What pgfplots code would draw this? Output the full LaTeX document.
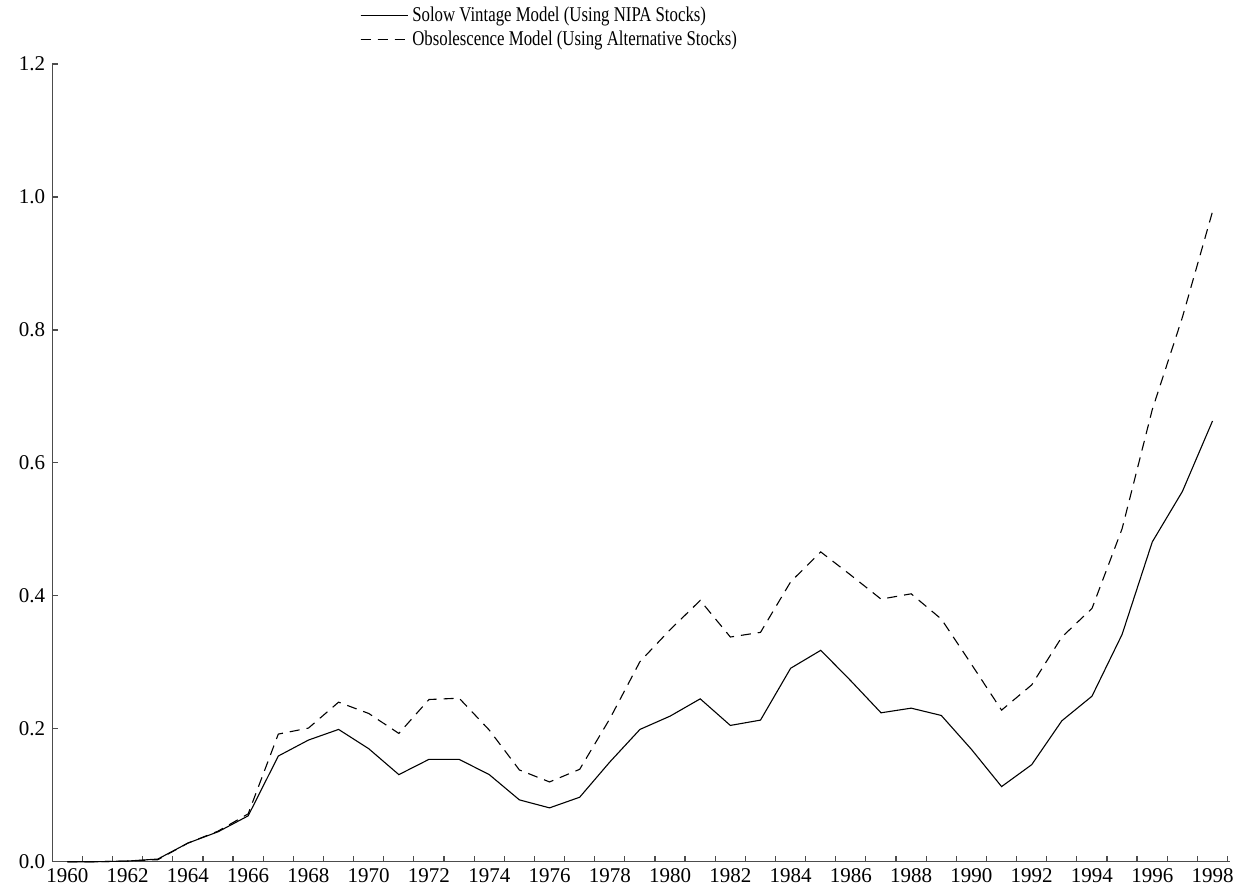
\documentclass[border=0pt]{standalone}
\usepackage{fontspec}
\setmainfont{Liberation Serif}
\newfontfamily\legfont[FakeStretch=0.8]{Liberation Serif}
\usepackage{pgfplots}
\pgfplotsset{compat=1.18}
\begin{document}
\begin{tikzpicture}
\useasboundingbox (-26.15pt,-14.15pt) rectangle (596.35pt,430.85pt);
\begin{axis}[
  scale only axis,
  width=588.85pt, height=398.85pt,
  xmin=1959.5, xmax=1998.58,
  ymin=0, ymax=1.2,
  axis x line=bottom, axis y line=left,
  axis line style={-, black!70, line width=0.6pt},
  tick align=inside,
  major tick length=0pt,
  minor tick length=3pt,
  tick style={black!70, line width=0.6pt},
  xtick={1960,1962,...,1998},
  minor xtick={1960.5,1961.5,...,1998.5},
  ytick={0,0.2,0.4,0.6,0.8,1.0,1.2},
  minor ytick={0.2,0.4,0.6,0.8,1.0,1.2},
  /pgf/number format/assume math mode=true,
  xticklabel style={/pgf/number format/.cd, fixed, precision=0, 1000 sep={}},
  yticklabel style={/pgf/number format/.cd, fixed, fixed zerofill, precision=1},
  tick label style={font=\fontsize{10.5}{12.6}\selectfont},
  legend style={draw=none, fill=none, at={(axis description cs:0.256,1.082)}, anchor=north west,
    font=\legfont\fontsize{10.5}{12.6}\selectfont, row sep=-1pt},
  legend cell align=left,
  legend image code/.code={\draw[#1] (0pt,0pt) -- (18.5pt,0pt); \path (0pt,0pt) -- (23.5pt,0pt);},
  clip=false,
]
\addplot[black, line width=0.55pt] coordinates {
(1960,0.000) (1961,0.000) (1962,0.001) (1963,0.004) (1964,0.028) (1965,0.045)
(1966,0.069) (1967,0.159) (1968,0.183) (1969,0.199) (1970,0.170) (1971,0.131)
(1972,0.154) (1973,0.154) (1974,0.131) (1975,0.093) (1976,0.081) (1977,0.097)
(1978,0.150) (1979,0.199) (1980,0.219) (1981,0.245) (1982,0.205) (1983,0.213)
(1984,0.291) (1985,0.318) (1986,0.272) (1987,0.224) (1988,0.231) (1989,0.220)
(1990,0.169) (1991,0.113) (1992,0.146) (1993,0.212) (1994,0.249) (1995,0.342)
(1996,0.481) (1997,0.557) (1998,0.663)
};
\addlegendentry{Solow Vintage Model (Using NIPA Stocks)}
\addplot[black, line width=0.55pt, dash pattern=on 5pt off 3.5pt] coordinates {
(1960,0.000) (1961,0.000) (1962,0.001) (1963,0.003) (1964,0.028) (1965,0.046)
(1966,0.072) (1967,0.192) (1968,0.201) (1969,0.240) (1970,0.223) (1971,0.193)
(1972,0.244) (1973,0.246) (1974,0.198) (1975,0.138) (1976,0.120) (1977,0.139)
(1978,0.215) (1979,0.301) (1980,0.349) (1981,0.393) (1982,0.338) (1983,0.345)
(1984,0.421) (1985,0.466) (1986,0.431) (1987,0.395) (1988,0.403) (1989,0.365)
(1990,0.297) (1991,0.228) (1992,0.266) (1993,0.338) (1994,0.381) (1995,0.501)
(1996,0.680) (1997,0.819) (1998,0.978)
};
\addlegendentry{Obsolescence Model (Using Alternative Stocks)}
\end{axis}
\end{tikzpicture}
\end{document}
